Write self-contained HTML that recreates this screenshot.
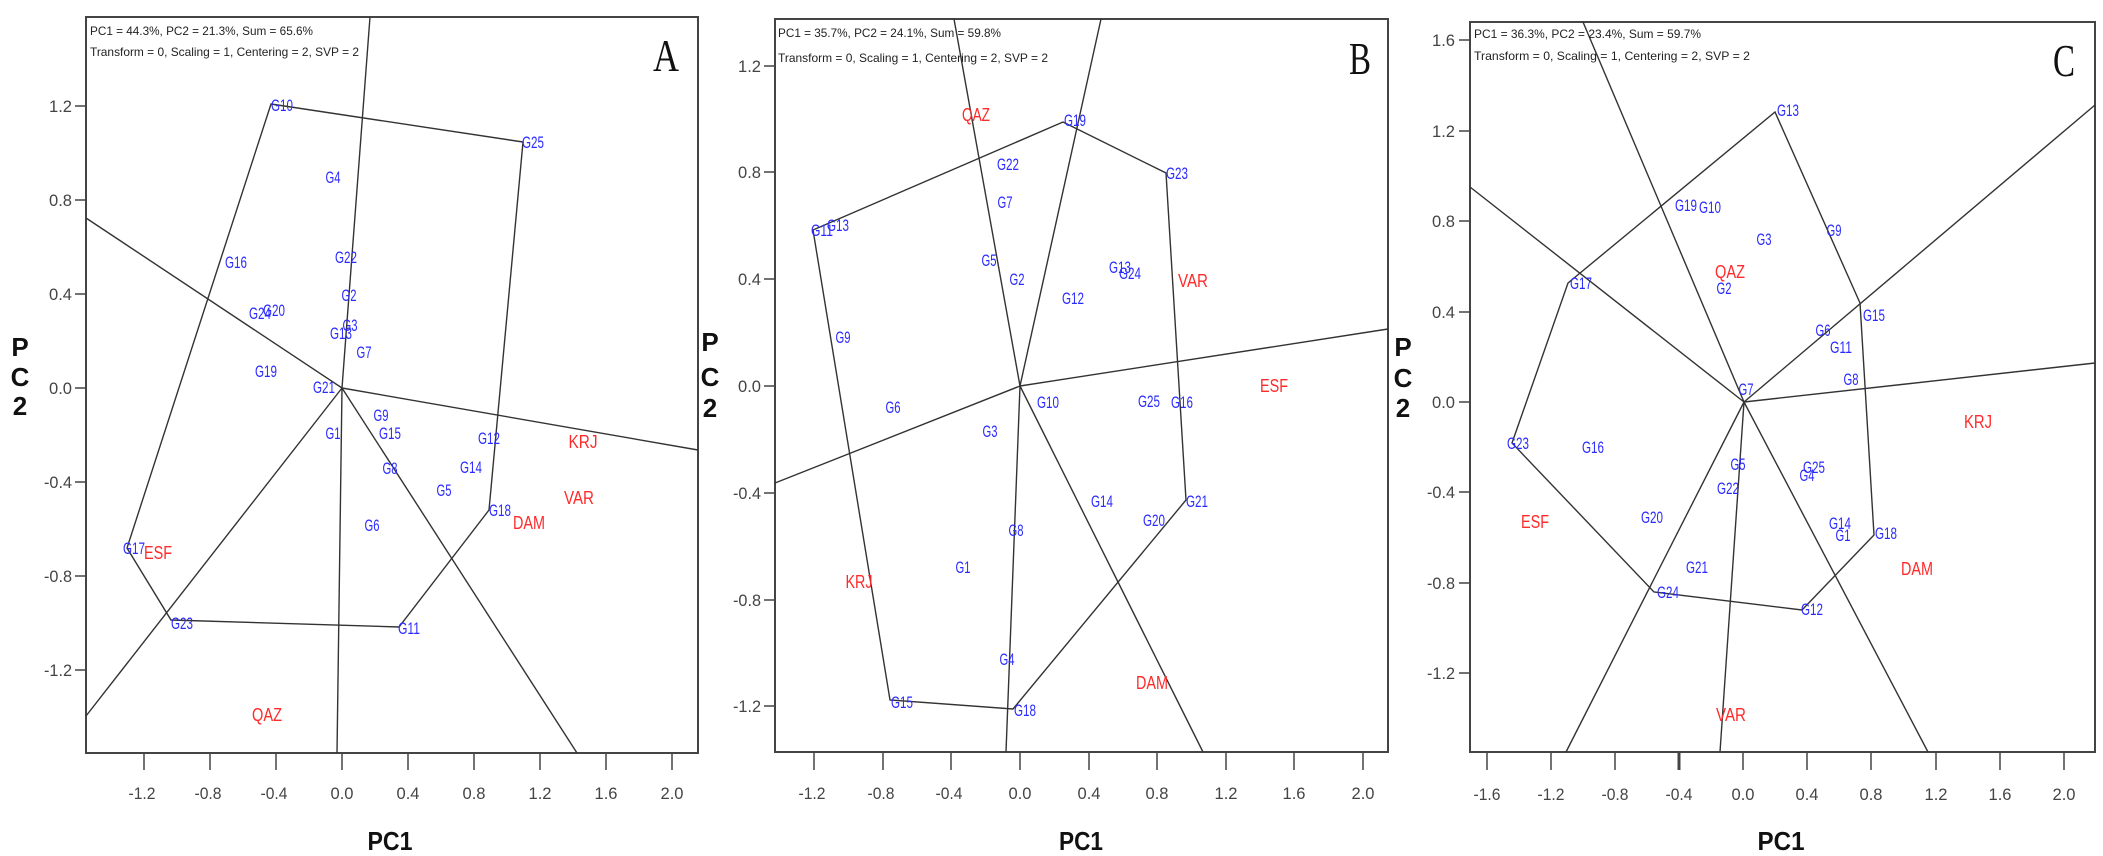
<!DOCTYPE html>
<html><head><meta charset="utf-8"><style>
body{margin:0;background:#fff}
svg{display:block}
text{font-family:"Liberation Sans",sans-serif}
.g{fill:#2a2aff;font-size:17px;text-anchor:middle}
.r{fill:#ff2a2a;font-size:18px;text-anchor:middle}
.t{fill:#444;font-size:17px;text-anchor:middle}
.ty{fill:#444;font-size:17px;text-anchor:end}
.h{fill:#222;font-size:12px}
.L{font-family:"Liberation Serif",serif;font-size:45px;fill:#111;text-anchor:middle}
.ax{font-size:26px;font-weight:bold;fill:#111;text-anchor:middle}
.fr{fill:none;stroke:#444;stroke-width:2}
.ln{fill:none;stroke:#333;stroke-width:1.4}
</style></head><body>
<svg width="2103" height="856" viewBox="0 0 2103 856" xmlns="http://www.w3.org/2000/svg">
<!-- ===== Panel A ===== -->
<rect class="fr" x="86" y="17" width="612" height="736"/>
<g class="ln">
<polygon points="271,104 523,142 489,510 399,627 171,620 127,548"/>
<line x1="342" y1="388" x2="370" y2="17"/>
<line x1="342" y1="388" x2="337" y2="753"/>
<line x1="342" y1="388" x2="86" y2="218"/>
<line x1="342" y1="388" x2="698" y2="450"/>
<line x1="342" y1="388" x2="86" y2="716"/>
<line x1="342" y1="388" x2="577" y2="753"/>
</g>
<g stroke="#444" stroke-width="1.5">
<line x1="75" y1="106" x2="86" y2="106"/><line x1="75" y1="200" x2="86" y2="200"/><line x1="75" y1="294" x2="86" y2="294"/><line x1="75" y1="388" x2="86" y2="388"/><line x1="75" y1="482" x2="86" y2="482"/><line x1="75" y1="576" x2="86" y2="576"/><line x1="75" y1="670" x2="86" y2="670"/>
<line x1="144" y1="753" x2="144" y2="770"/><line x1="210" y1="753" x2="210" y2="770"/><line x1="276" y1="753" x2="276" y2="770"/><line x1="342" y1="753" x2="342" y2="770"/><line x1="408" y1="753" x2="408" y2="770"/><line x1="474" y1="753" x2="474" y2="770"/><line x1="540" y1="753" x2="540" y2="770"/><line x1="606" y1="753" x2="606" y2="770"/><line x1="672" y1="753" x2="672" y2="770"/>
</g>
<g class="ty">
<text x="72" y="112" textLength="23" lengthAdjust="spacingAndGlyphs">1.2</text><text x="72" y="206" textLength="23" lengthAdjust="spacingAndGlyphs">0.8</text><text x="72" y="300" textLength="23" lengthAdjust="spacingAndGlyphs">0.4</text><text x="72" y="394" textLength="23" lengthAdjust="spacingAndGlyphs">0.0</text><text x="72" y="488" textLength="28" lengthAdjust="spacingAndGlyphs">-0.4</text><text x="72" y="582" textLength="28" lengthAdjust="spacingAndGlyphs">-0.8</text><text x="72" y="676" textLength="28" lengthAdjust="spacingAndGlyphs">-1.2</text>
</g>
<g class="t">
<text x="142" y="799" textLength="27" lengthAdjust="spacingAndGlyphs">-1.2</text><text x="208" y="799" textLength="27" lengthAdjust="spacingAndGlyphs">-0.8</text><text x="274" y="799" textLength="27" lengthAdjust="spacingAndGlyphs">-0.4</text><text x="342" y="799" textLength="23" lengthAdjust="spacingAndGlyphs">0.0</text><text x="408" y="799" textLength="23" lengthAdjust="spacingAndGlyphs">0.4</text><text x="474" y="799" textLength="23" lengthAdjust="spacingAndGlyphs">0.8</text><text x="540" y="799" textLength="23" lengthAdjust="spacingAndGlyphs">1.2</text><text x="606" y="799" textLength="23" lengthAdjust="spacingAndGlyphs">1.6</text><text x="672" y="799" textLength="23" lengthAdjust="spacingAndGlyphs">2.0</text>
</g>
<text class="h" x="90" y="35" textLength="223" lengthAdjust="spacingAndGlyphs">PC1 = 44.3%, PC2 = 21.3%, Sum = 65.6%</text>
<text class="h" x="90" y="56" textLength="269" lengthAdjust="spacingAndGlyphs">Transform = 0, Scaling = 1, Centering = 2, SVP = 2</text>
<text class="L" x="666" y="71" textLength="26" lengthAdjust="spacingAndGlyphs">A</text>
<text class="ax" x="390" y="850" textLength="45" lengthAdjust="spacingAndGlyphs">PC1</text>
<text class="ax" x="20" y="356">P</text><text class="ax" x="20" y="386">C</text><text class="ax" x="20" y="415">2</text>
<g class="g">
<text x="282" y="111" textLength="22" lengthAdjust="spacingAndGlyphs">G10</text><text x="533" y="148" textLength="22" lengthAdjust="spacingAndGlyphs">G25</text><text x="333" y="183" textLength="15" lengthAdjust="spacingAndGlyphs">G4</text><text x="346" y="263" textLength="22" lengthAdjust="spacingAndGlyphs">G22</text><text x="236" y="268" textLength="22" lengthAdjust="spacingAndGlyphs">G16</text><text x="349" y="301" textLength="15" lengthAdjust="spacingAndGlyphs">G2</text><text x="260" y="319" textLength="22" lengthAdjust="spacingAndGlyphs">G24</text><text x="274" y="316" textLength="22" lengthAdjust="spacingAndGlyphs">G20</text><text x="341" y="339" textLength="22" lengthAdjust="spacingAndGlyphs">G13</text><text x="350" y="331" textLength="15" lengthAdjust="spacingAndGlyphs">G3</text><text x="364" y="358" textLength="15" lengthAdjust="spacingAndGlyphs">G7</text><text x="266" y="377" textLength="22" lengthAdjust="spacingAndGlyphs">G19</text><text x="324" y="393" textLength="22" lengthAdjust="spacingAndGlyphs">G21</text><text x="381" y="421" textLength="15" lengthAdjust="spacingAndGlyphs">G9</text><text x="333" y="439" textLength="15" lengthAdjust="spacingAndGlyphs">G1</text><text x="390" y="439" textLength="22" lengthAdjust="spacingAndGlyphs">G15</text><text x="489" y="444" textLength="22" lengthAdjust="spacingAndGlyphs">G12</text><text x="390" y="474" textLength="15" lengthAdjust="spacingAndGlyphs">G8</text><text x="471" y="473" textLength="22" lengthAdjust="spacingAndGlyphs">G14</text><text x="444" y="496" textLength="15" lengthAdjust="spacingAndGlyphs">G5</text><text x="500" y="516" textLength="22" lengthAdjust="spacingAndGlyphs">G18</text><text x="372" y="531" textLength="15" lengthAdjust="spacingAndGlyphs">G6</text><text x="134" y="554" textLength="22" lengthAdjust="spacingAndGlyphs">G17</text><text x="182" y="629" textLength="22" lengthAdjust="spacingAndGlyphs">G23</text><text x="409" y="634" textLength="22" lengthAdjust="spacingAndGlyphs">G11</text>
</g>
<g class="r">
<text x="583" y="448" textLength="29" lengthAdjust="spacingAndGlyphs">KRJ</text><text x="579" y="504" textLength="30" lengthAdjust="spacingAndGlyphs">VAR</text><text x="529" y="529" textLength="32" lengthAdjust="spacingAndGlyphs">DAM</text><text x="158" y="559" textLength="28" lengthAdjust="spacingAndGlyphs">ESF</text><text x="267" y="721" textLength="30" lengthAdjust="spacingAndGlyphs">QAZ</text>
</g>

<!-- ===== Panel B ===== -->
<rect class="fr" x="775" y="19" width="613" height="733"/>
<g class="ln">
<polygon points="813,230 1063,122 1166,173 1186,500 1013,709 890,700"/>
<line x1="1020" y1="386" x2="1101" y2="19"/>
<line x1="1020" y1="386" x2="954" y2="19"/>
<line x1="1020" y1="386" x2="1388" y2="329"/>
<line x1="1020" y1="386" x2="775" y2="483"/>
<line x1="1020" y1="386" x2="1006" y2="752"/>
<line x1="1020" y1="386" x2="1203" y2="752"/>
</g>
<g stroke="#444" stroke-width="1.5">
<line x1="764" y1="66" x2="775" y2="66"/><line x1="764" y1="172" x2="775" y2="172"/><line x1="764" y1="279" x2="775" y2="279"/><line x1="764" y1="386" x2="775" y2="386"/><line x1="764" y1="493" x2="775" y2="493"/><line x1="764" y1="600" x2="775" y2="600"/><line x1="764" y1="706" x2="775" y2="706"/>
<line x1="814" y1="752" x2="814" y2="770"/><line x1="883" y1="752" x2="883" y2="770"/><line x1="951" y1="752" x2="951" y2="770"/><line x1="1020" y1="752" x2="1020" y2="770"/><line x1="1089" y1="752" x2="1089" y2="770"/><line x1="1157" y1="752" x2="1157" y2="770"/><line x1="1226" y1="752" x2="1226" y2="770"/><line x1="1294" y1="752" x2="1294" y2="770"/><line x1="1363" y1="752" x2="1363" y2="770"/>
</g>
<g class="ty">
<text x="761" y="72" textLength="23" lengthAdjust="spacingAndGlyphs">1.2</text><text x="761" y="178" textLength="23" lengthAdjust="spacingAndGlyphs">0.8</text><text x="761" y="285" textLength="23" lengthAdjust="spacingAndGlyphs">0.4</text><text x="761" y="392" textLength="23" lengthAdjust="spacingAndGlyphs">0.0</text><text x="761" y="499" textLength="28" lengthAdjust="spacingAndGlyphs">-0.4</text><text x="761" y="606" textLength="28" lengthAdjust="spacingAndGlyphs">-0.8</text><text x="761" y="712" textLength="28" lengthAdjust="spacingAndGlyphs">-1.2</text>
</g>
<g class="t">
<text x="812" y="799" textLength="27" lengthAdjust="spacingAndGlyphs">-1.2</text><text x="881" y="799" textLength="27" lengthAdjust="spacingAndGlyphs">-0.8</text><text x="949" y="799" textLength="27" lengthAdjust="spacingAndGlyphs">-0.4</text><text x="1020" y="799" textLength="23" lengthAdjust="spacingAndGlyphs">0.0</text><text x="1089" y="799" textLength="23" lengthAdjust="spacingAndGlyphs">0.4</text><text x="1157" y="799" textLength="23" lengthAdjust="spacingAndGlyphs">0.8</text><text x="1226" y="799" textLength="23" lengthAdjust="spacingAndGlyphs">1.2</text><text x="1294" y="799" textLength="23" lengthAdjust="spacingAndGlyphs">1.6</text><text x="1363" y="799" textLength="23" lengthAdjust="spacingAndGlyphs">2.0</text>
</g>
<text class="h" x="778" y="37" textLength="223" lengthAdjust="spacingAndGlyphs">PC1 = 35.7%, PC2 = 24.1%, Sum = 59.8%</text>
<text class="h" x="778" y="62" textLength="270" lengthAdjust="spacingAndGlyphs">Transform = 0, Scaling = 1, Centering = 2, SVP = 2</text>
<text class="L" x="1360" y="74" textLength="22" lengthAdjust="spacingAndGlyphs">B</text>
<text class="ax" x="1081" y="850" textLength="44" lengthAdjust="spacingAndGlyphs">PC1</text>
<text class="ax" x="710" y="351">P</text><text class="ax" x="710" y="386">C</text><text class="ax" x="710" y="417">2</text>
<g class="g">
<text x="1008" y="170" textLength="22" lengthAdjust="spacingAndGlyphs">G22</text><text x="1005" y="208" textLength="15" lengthAdjust="spacingAndGlyphs">G7</text><text x="822" y="236" textLength="22" lengthAdjust="spacingAndGlyphs">G11</text><text x="838" y="231" textLength="22" lengthAdjust="spacingAndGlyphs">G13</text><text x="989" y="266" textLength="15" lengthAdjust="spacingAndGlyphs">G5</text><text x="1017" y="285" textLength="15" lengthAdjust="spacingAndGlyphs">G2</text><text x="843" y="343" textLength="15" lengthAdjust="spacingAndGlyphs">G9</text><text x="893" y="413" textLength="15" lengthAdjust="spacingAndGlyphs">G6</text><text x="1075" y="126" textLength="22" lengthAdjust="spacingAndGlyphs">G19</text><text x="1177" y="179" textLength="22" lengthAdjust="spacingAndGlyphs">G23</text><text x="1120" y="273" textLength="22" lengthAdjust="spacingAndGlyphs">G13</text><text x="1130" y="279" textLength="22" lengthAdjust="spacingAndGlyphs">G24</text><text x="1073" y="304" textLength="22" lengthAdjust="spacingAndGlyphs">G12</text><text x="1048" y="408" textLength="22" lengthAdjust="spacingAndGlyphs">G10</text><text x="1149" y="407" textLength="22" lengthAdjust="spacingAndGlyphs">G25</text><text x="1182" y="408" textLength="22" lengthAdjust="spacingAndGlyphs">G16</text><text x="990" y="437" textLength="15" lengthAdjust="spacingAndGlyphs">G3</text><text x="1016" y="536" textLength="15" lengthAdjust="spacingAndGlyphs">G8</text><text x="963" y="573" textLength="15" lengthAdjust="spacingAndGlyphs">G1</text><text x="1007" y="665" textLength="15" lengthAdjust="spacingAndGlyphs">G4</text><text x="902" y="708" textLength="22" lengthAdjust="spacingAndGlyphs">G15</text><text x="1025" y="716" textLength="22" lengthAdjust="spacingAndGlyphs">G18</text><text x="1102" y="507" textLength="22" lengthAdjust="spacingAndGlyphs">G14</text><text x="1197" y="507" textLength="22" lengthAdjust="spacingAndGlyphs">G21</text><text x="1154" y="526" textLength="22" lengthAdjust="spacingAndGlyphs">G20</text>
</g>
<g class="r">
<text x="976" y="121" textLength="28" lengthAdjust="spacingAndGlyphs">QAZ</text><text x="1193" y="287" textLength="30" lengthAdjust="spacingAndGlyphs">VAR</text><text x="1274" y="392" textLength="28" lengthAdjust="spacingAndGlyphs">ESF</text><text x="859" y="588" textLength="27" lengthAdjust="spacingAndGlyphs">KRJ</text><text x="1152" y="689" textLength="32" lengthAdjust="spacingAndGlyphs">DAM</text>
</g>

<!-- ===== Panel C ===== -->
<rect class="fr" x="1470" y="22" width="625" height="730"/>
<g class="ln">
<polygon points="1775,112 1860,303 1874,535 1802,610 1654,592 1512,443 1568,283"/>
<line x1="1744" y1="402" x2="1583" y2="22"/>
<line x1="1744" y1="402" x2="1470" y2="187"/>
<line x1="1744" y1="402" x2="2095" y2="105"/>
<line x1="1744" y1="402" x2="2095" y2="363"/>
<line x1="1744" y1="402" x2="1566" y2="752"/>
<line x1="1744" y1="402" x2="1720" y2="752"/>
<line x1="1744" y1="402" x2="1928" y2="752"/>
</g>
<g stroke="#444" stroke-width="1.5">
<line x1="1459" y1="40" x2="1470" y2="40"/><line x1="1459" y1="131" x2="1470" y2="131"/><line x1="1459" y1="221" x2="1470" y2="221"/><line x1="1459" y1="312" x2="1470" y2="312"/><line x1="1459" y1="402" x2="1470" y2="402"/><line x1="1459" y1="492" x2="1470" y2="492"/><line x1="1459" y1="583" x2="1470" y2="583"/><line x1="1459" y1="673" x2="1470" y2="673"/>
<line x1="1487" y1="752" x2="1487" y2="770"/><line x1="1551" y1="752" x2="1551" y2="770"/><line x1="1615" y1="752" x2="1615" y2="770"/><line x1="1679" y1="752" x2="1679" y2="770" stroke-width="3"/><line x1="1743" y1="752" x2="1743" y2="770"/><line x1="1807" y1="752" x2="1807" y2="770"/><line x1="1871" y1="752" x2="1871" y2="770"/><line x1="1936" y1="752" x2="1936" y2="770"/><line x1="2000" y1="752" x2="2000" y2="770"/><line x1="2064" y1="752" x2="2064" y2="770"/>
</g>
<g class="ty">
<text x="1455" y="46" textLength="23" lengthAdjust="spacingAndGlyphs">1.6</text><text x="1455" y="137" textLength="23" lengthAdjust="spacingAndGlyphs">1.2</text><text x="1455" y="227" textLength="23" lengthAdjust="spacingAndGlyphs">0.8</text><text x="1455" y="318" textLength="23" lengthAdjust="spacingAndGlyphs">0.4</text><text x="1455" y="408" textLength="23" lengthAdjust="spacingAndGlyphs">0.0</text><text x="1455" y="498" textLength="28" lengthAdjust="spacingAndGlyphs">-0.4</text><text x="1455" y="589" textLength="28" lengthAdjust="spacingAndGlyphs">-0.8</text><text x="1455" y="679" textLength="28" lengthAdjust="spacingAndGlyphs">-1.2</text>
</g>
<g class="t">
<text x="1487" y="800" textLength="27" lengthAdjust="spacingAndGlyphs">-1.6</text><text x="1551" y="800" textLength="27" lengthAdjust="spacingAndGlyphs">-1.2</text><text x="1615" y="800" textLength="27" lengthAdjust="spacingAndGlyphs">-0.8</text><text x="1679" y="800" textLength="27" lengthAdjust="spacingAndGlyphs">-0.4</text><text x="1743" y="800" textLength="23" lengthAdjust="spacingAndGlyphs">0.0</text><text x="1807" y="800" textLength="23" lengthAdjust="spacingAndGlyphs">0.4</text><text x="1871" y="800" textLength="23" lengthAdjust="spacingAndGlyphs">0.8</text><text x="1936" y="800" textLength="23" lengthAdjust="spacingAndGlyphs">1.2</text><text x="2000" y="800" textLength="23" lengthAdjust="spacingAndGlyphs">1.6</text><text x="2064" y="800" textLength="23" lengthAdjust="spacingAndGlyphs">2.0</text>
</g>
<text class="h" x="1474" y="38" textLength="227" lengthAdjust="spacingAndGlyphs">PC1 = 36.3%, PC2 = 23.4%, Sum = 59.7%</text>
<text class="h" x="1474" y="60" textLength="276" lengthAdjust="spacingAndGlyphs">Transform = 0, Scaling = 1, Centering = 2, SVP = 2</text>
<text class="L" x="2064" y="76" textLength="22" lengthAdjust="spacingAndGlyphs">C</text>
<text class="ax" x="1781" y="850" textLength="47" lengthAdjust="spacingAndGlyphs">PC1</text>
<text class="ax" x="1403" y="356">P</text><text class="ax" x="1403" y="387">C</text><text class="ax" x="1403" y="417">2</text>
<g class="g">
<text x="1788" y="116" textLength="22" lengthAdjust="spacingAndGlyphs">G13</text><text x="1686" y="211" textLength="22" lengthAdjust="spacingAndGlyphs">G19</text><text x="1710" y="213" textLength="22" lengthAdjust="spacingAndGlyphs">G10</text><text x="1764" y="245" textLength="15" lengthAdjust="spacingAndGlyphs">G3</text><text x="1834" y="236" textLength="15" lengthAdjust="spacingAndGlyphs">G9</text><text x="1724" y="294" textLength="15" lengthAdjust="spacingAndGlyphs">G2</text><text x="1581" y="289" textLength="22" lengthAdjust="spacingAndGlyphs">G17</text><text x="1874" y="321" textLength="22" lengthAdjust="spacingAndGlyphs">G15</text><text x="1823" y="336" textLength="15" lengthAdjust="spacingAndGlyphs">G6</text><text x="1841" y="353" textLength="22" lengthAdjust="spacingAndGlyphs">G11</text><text x="1851" y="385" textLength="15" lengthAdjust="spacingAndGlyphs">G8</text><text x="1746" y="395" textLength="15" lengthAdjust="spacingAndGlyphs">G7</text><text x="1518" y="449" textLength="22" lengthAdjust="spacingAndGlyphs">G23</text><text x="1593" y="453" textLength="22" lengthAdjust="spacingAndGlyphs">G16</text><text x="1738" y="470" textLength="15" lengthAdjust="spacingAndGlyphs">G5</text><text x="1814" y="473" textLength="22" lengthAdjust="spacingAndGlyphs">G25</text><text x="1807" y="481" textLength="15" lengthAdjust="spacingAndGlyphs">G4</text><text x="1728" y="494" textLength="22" lengthAdjust="spacingAndGlyphs">G22</text><text x="1652" y="523" textLength="22" lengthAdjust="spacingAndGlyphs">G20</text><text x="1840" y="529" textLength="22" lengthAdjust="spacingAndGlyphs">G14</text><text x="1843" y="541" textLength="15" lengthAdjust="spacingAndGlyphs">G1</text><text x="1886" y="539" textLength="22" lengthAdjust="spacingAndGlyphs">G18</text><text x="1697" y="573" textLength="22" lengthAdjust="spacingAndGlyphs">G21</text><text x="1668" y="598" textLength="22" lengthAdjust="spacingAndGlyphs">G24</text><text x="1812" y="615" textLength="22" lengthAdjust="spacingAndGlyphs">G12</text>
</g>
<g class="r">
<text x="1730" y="278" textLength="30" lengthAdjust="spacingAndGlyphs">QAZ</text><text x="1978" y="428" textLength="28" lengthAdjust="spacingAndGlyphs">KRJ</text><text x="1535" y="528" textLength="28" lengthAdjust="spacingAndGlyphs">ESF</text><text x="1917" y="575" textLength="32" lengthAdjust="spacingAndGlyphs">DAM</text><text x="1731" y="721" textLength="30" lengthAdjust="spacingAndGlyphs">VAR</text>
</g>
</svg>
</body></html>
